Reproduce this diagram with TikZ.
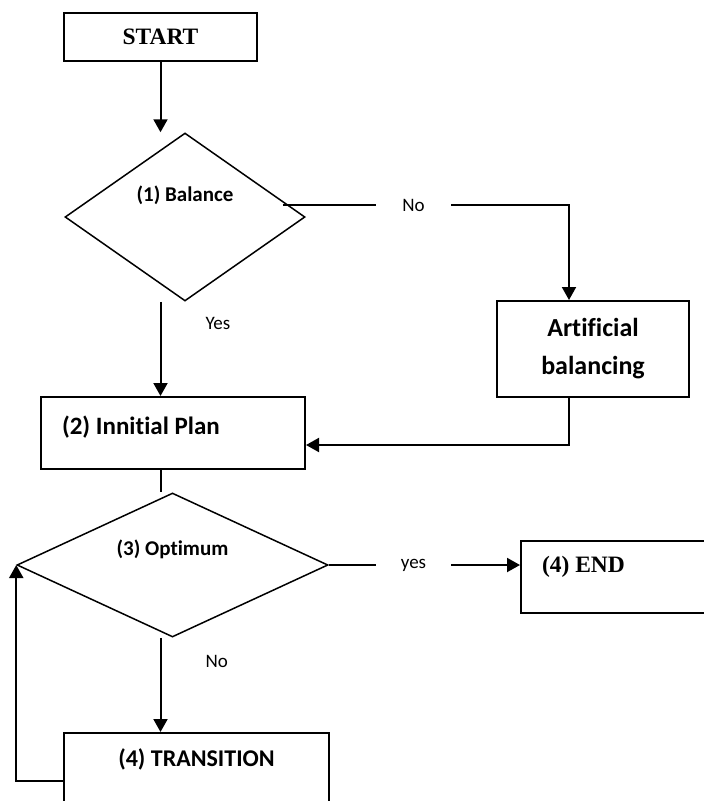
\documentclass[tikz,border=0pt]{standalone}
\usepackage{fontspec}
\setmainfont{Liberation Serif}
\newfontfamily\calibri[Ligatures=NoCommon]{Carlito}
\usetikzlibrary{arrows.meta,shapes.geometric}

\begin{document}
\begin{tikzpicture}[>={Triangle[length=13pt,width=14pt]},x=1pt,y=-1pt,
                    line width=2pt]
  \tikzstyle{box}=[draw,rectangle,line width=2pt,inner sep=0pt]
  \tikzstyle{decision}=[draw,diamond,line width=1.5pt,inner sep=0pt]
  \tikzstyle{lbl}=[inner sep=0pt,font=\calibri\fontsize{19}{23}\selectfont]
  \tikzstyle{gap}=[lbl,minimum width=73pt]

  \clip (0,0) rectangle (704,801);

  \node[box,minimum width=193pt,minimum height=48pt,
        font=\bfseries\fontsize{23.5}{28}\selectfont] (start) at (160.5,37) {START};
  \node[decision,minimum width=240pt,minimum height=168pt,
        label={[inner sep=0pt,yshift=22pt,font=\calibri\bfseries\fontsize{21}{25}\selectfont]center:(1) Balance}]
        (bal) at (185,217) {};
  \node[box,minimum width=192pt,minimum height=96pt,align=center,
        font=\calibri\bfseries\fontsize{26}{38}\selectfont] (art) at (593,349)
        {Artificial\\balancing};
  \node[box,minimum width=264pt,minimum height=72pt,
        label={[inner sep=0pt,anchor=west,xshift=21pt,yshift=6pt,font=\calibri\bfseries\fontsize{25}{30}\selectfont]west:(2) Innitial Plan}]
        (plan) at (173,433) {};
  \node[decision,minimum width=311pt,minimum height=144pt,
        label={[inner sep=0pt,yshift=16pt,font=\calibri\bfseries\fontsize{21}{25}\selectfont]center:(3) Optimum}]
        (opt) at (172.5,565) {};
  \node[box,minimum width=219pt,minimum height=72pt,
        label={[inner sep=0pt,anchor=west,xshift=21pt,yshift=10pt,font=\bfseries\fontsize{23.5}{28}\selectfont]west:(4) END}]
        (fin) at (630.5,577) {};
  \node[box,minimum width=265pt,minimum height=96pt,
        label={[inner sep=0pt,yshift=22pt,font=\calibri\bfseries\fontsize{24}{29}\selectfont]center:(4) TRANSITION}]
        (trans) at (196.5,781) {};

  % balance test
  \draw[->] (start.south) -- (start.south |- bal.north);
  \coordinate (nofrom) at ([shift={(-23,-12)}]bal.east);
  \node[gap] (no1) at (413.5,205) {No};
  \draw (nofrom) -- (no1.west);
  \draw[->] (no1.east) -| ([xshift=-24pt]art.north);
  \draw[->] (start.south |- bal.south) -- node[lbl,pos=.23,right=44pt] {Yes}
            (start.south |- plan.north);
  \draw[->] ([xshift=-24pt]art.south) |- ([yshift=-12pt]plan.east);

  % optimum test
  \draw (start.south |- plan.south) -- (start.south |- opt.north);
  \node[gap] (yes1) at (413.5,565) {yes};
  \draw (opt.east) -- (yes1.west);
  \draw[->] (yes1.east) -- (yes1.east -| fin.west);
  \draw[->] (start.south |- opt.south) -- node[lbl,pos=.25,right=44pt] {No}
            (start.south |- trans.north);
  \draw[->] (trans.west) -| (opt.west);
\end{tikzpicture}
\end{document}
